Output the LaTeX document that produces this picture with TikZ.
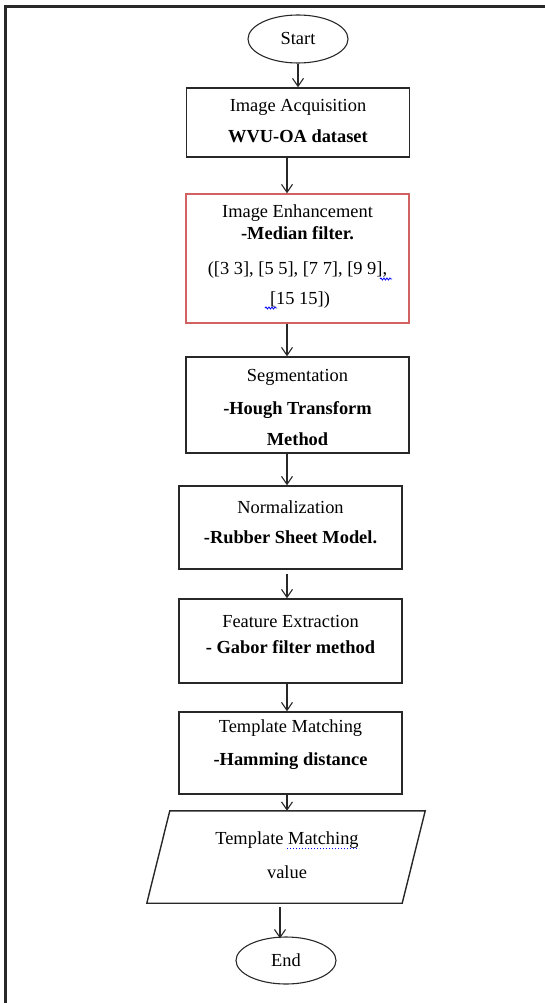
\documentclass[tikz,border=0pt]{standalone}
\usepackage{fontspec}
\setmainfont{Liberation Serif}
\usetikzlibrary{arrows.meta,shapes.geometric,decorations.pathmorphing}
\definecolor{boxred}{RGB}{208,98,98}
\definecolor{linegray}{RGB}{40,40,40}

\begin{document}
\begin{tikzpicture}[x=1pt,y=-1pt,
    procbox/.style={draw=linegray,line width=1.4pt,minimum width=223pt,inner sep=0pt},
    termbox/.style={ellipse,draw=linegray,line width=1.1pt,minimum width=100pt,minimum height=48pt,inner sep=0pt,font=\fontsize{18.4}{22}\selectfont},
    iobox/.style={minimum width=255pt,minimum height=92pt,inner sep=0pt},
    txt/.style={align=center,inner sep=0pt,font=\fontsize{18.4}{22}\selectfont},
    arr/.style={-{Straight Barb[length=8pt,width=11pt]},line width=1.1pt,draw=linegray},
    squig/.style={blue,line width=0.8pt,decorate,decoration={snake,amplitude=1pt,segment length=3pt}}]
        \useasboundingbox (0,0) rectangle (545,1003);
        % page frame, cut off at right and bottom
        \draw[line width=3pt,linegray] (5,1010) -- (5,7) -- (550,7);

        \node[termbox] (start) at (298,39) {Start};

        \node[procbox,minimum height=69pt] (acq) at (298,122.5) {};
        \node[txt] (acqtxt) at (298,121) {Image Acquisition\\[9pt]\textbf{WVU-OA dataset}};

        \node[procbox,draw=boxred,minimum height=129pt] (enh) at (297.5,258.5) {};
        \node[txt] (enhtxt) at (297.5,256.5) {Image Enhancement\\\textbf{-Median filter.}\\[13pt]([3 3], [5 5], [7 7], [9 9],\\[8pt]\hspace*{5pt}[15 15])};
        \draw[squig] (380,279) -- (392,279);
        \draw[squig] (265,308) -- (277,308);

        \node[procbox,minimum height=96pt] (seg) at (297.5,405) {};
        \node[txt] (segtxt) at (297.5,407) {Segmentation\\[11pt]\textbf{-Hough Transform}\\[9pt]\textbf{Method}};

        \node[procbox,minimum height=83pt] (norm) at (290.5,527.5) {};
        \node[txt] (normtxt) at (290.5,522) {Normalization\\[8pt]\textbf{-Rubber Sheet Model.}};

        \node[procbox,minimum height=84pt] (feat) at (290.5,641) {};
        \node[txt] (feattxt) at (290.5,634) {Feature Extraction\\[4pt]\textbf{- Gabor filter method}};

        \node[procbox,minimum height=82pt] (tmpl) at (290.5,753) {};
        \node[txt] (tmpltxt) at (290.5,744.5) {Template Matching\\[11pt]\textbf{-Hamming distance}};

        % slanted output box
        \node[iobox] (val) at (286,857) {};
        \draw[line width=1.4pt,linegray] ([xshift=-11.5pt]val.south west) -- ([xshift=11.5pt]val.north west)
          -- ([xshift=11.5pt]val.north east) -- ([xshift=-11.5pt]val.south east) -- cycle;
        \node[txt] (valtxt) at (287,855) {Template Matching\\[12pt]value};
        \draw[blue,dotted,line width=1pt] (287,848) -- (359,848);

        \node[termbox,minimum height=47pt] (end) at (286,960.5) {End};

        % arrows down the chart
        \coordinate (spine) at (287,0);
        \coordinate (tail) at (280,0);
        \draw[arr] (start.south) -- (acq.north);
        \draw[arr] (acq.south -| spine) -- (enh.north -| spine);
        \draw[arr] (enh.south -| spine) -- (seg.north -| spine);
        \draw[arr] (seg.south -| spine) -- (norm.north -| spine);
        \draw[arr] ([yshift=-4pt]norm.south -| spine) -- (feat.north -| spine);
        \draw[arr] (feat.south -| spine) -- (tmpl.north -| spine);
        \draw[arr] (tmpl.south -| spine) -- (val.north -| spine);
        \draw[arr] ([yshift=-4pt]val.south -| tail) -- ([yshift=-2pt]end.north -| tail);
\end{tikzpicture}
\end{document}
